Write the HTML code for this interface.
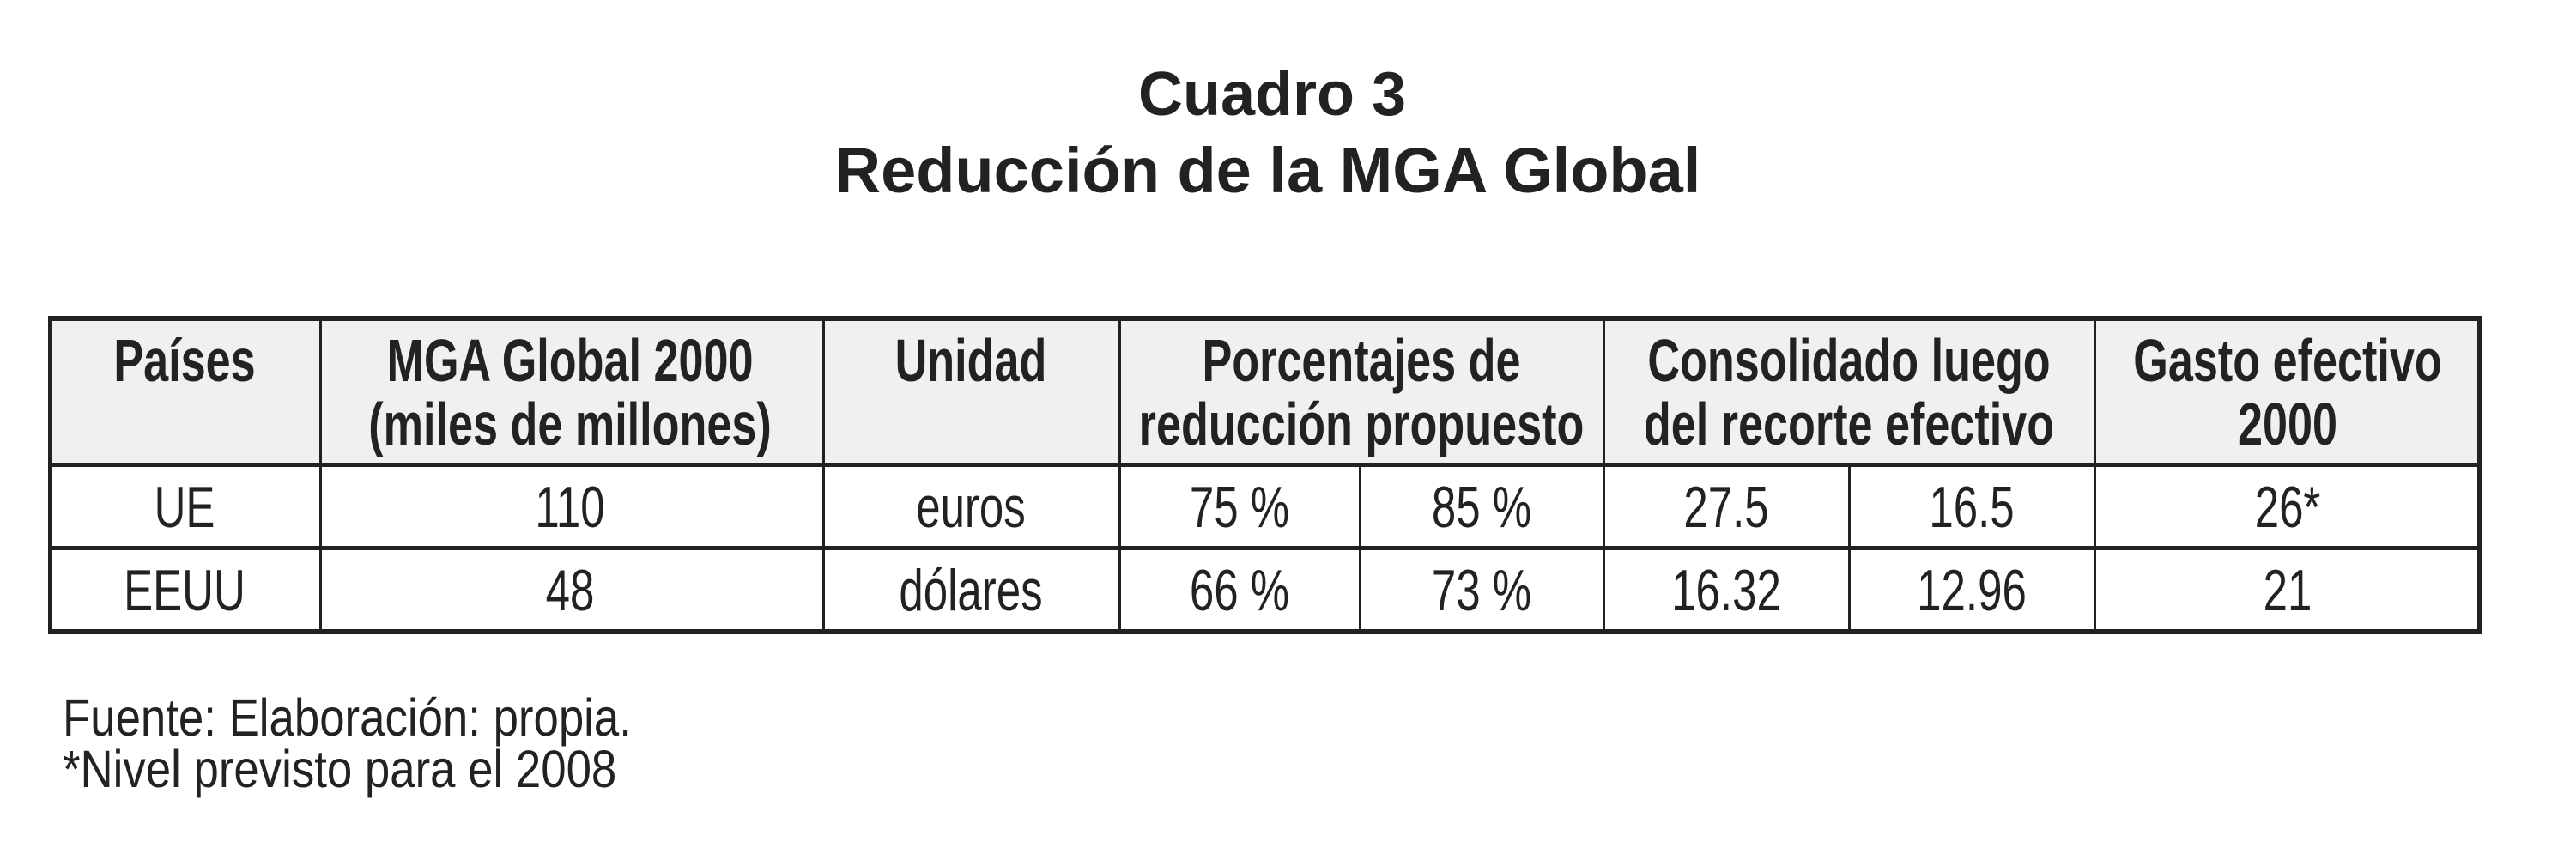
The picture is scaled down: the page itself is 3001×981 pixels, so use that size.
<!DOCTYPE html>
<html><head><meta charset="utf-8">
<style>
html,body{margin:0;padding:0;background:#fff;}
#p{position:relative;width:3001px;height:981px;overflow:hidden;background:#fff;color:#222;font-family:"Liberation Sans",sans-serif;}
.t{position:absolute;white-space:nowrap;line-height:1;transform:translateX(-50%) scaleX(var(--s));transform-origin:50% 0;}
.h{font-weight:bold;font-size:70px;--s:0.745;}
.b{font-size:68px;--s:0.75;}
.ln{position:absolute;background:#222;}
.f{position:absolute;left:73px;font-size:61px;line-height:1;white-space:nowrap;transform:scaleX(0.865);transform-origin:0 0}
</style></head><body><div id="p">
<div class="t" style="left:1482px;top:74px;font-size:72px;font-weight:bold;--s:1">Cuadro 3</div>
<div class="t" style="left:1477px;top:162px;font-size:74px;font-weight:bold;--s:1">Reducción de la MGA Global</div>

<div style="position:absolute;left:58px;top:371px;width:2830px;height:173px;background:#f0f0f0"></div>
<div class="ln" style="left:56px;top:368px;width:2835px;height:6px"></div>
<div class="ln" style="left:56px;top:539px;width:2835px;height:5px"></div>
<div class="ln" style="left:56px;top:636px;width:2835px;height:5px"></div>
<div class="ln" style="left:56px;top:733px;width:2835px;height:6px"></div>
<div class="ln" style="left:56px;top:368px;width:5px;height:371px"></div>
<div class="ln" style="left:2886px;top:368px;width:5px;height:371px"></div>
<div class="ln" style="left:372px;top:368px;width:3px;height:371px"></div>
<div class="ln" style="left:958px;top:368px;width:3px;height:371px"></div>
<div class="ln" style="left:1303px;top:368px;width:3px;height:371px"></div>
<div class="ln" style="left:1583px;top:539px;width:3px;height:200px"></div>
<div class="ln" style="left:1867px;top:368px;width:3px;height:371px"></div>
<div class="ln" style="left:2153px;top:539px;width:3px;height:200px"></div>
<div class="ln" style="left:2439px;top:368px;width:3px;height:371px"></div>

<div class="t h" style="left:215px;top:385px">Países</div>
<div class="t h" style="left:664px;top:385px">MGA Global 2000</div>
<div class="t h" style="left:664px;top:459px">(miles de millones)</div>
<div class="t h" style="left:1131px;top:385px">Unidad</div>
<div class="t h" style="left:1586px;top:385px">Porcentajes de</div>
<div class="t h" style="left:1586px;top:459px">reducción propuesto</div>
<div class="t h" style="left:2154px;top:385px">Consolidado luego</div>
<div class="t h" style="left:2154px;top:459px">del recorte efectivo</div>
<div class="t h" style="left:2665px;top:385px">Gasto efectivo</div>
<div class="t h" style="left:2665px;top:459px">2000</div>

<div class="t b" style="left:215px;top:557px">UE</div>
<div class="t b" style="left:664px;top:557px">110</div>
<div class="t b" style="left:1131px;top:557px">euros</div>
<div class="t b" style="left:1444px;top:557px">75 %</div>
<div class="t b" style="left:1726px;top:557px">85 %</div>
<div class="t b" style="left:2011px;top:557px">27.5</div>
<div class="t b" style="left:2297px;top:557px">16.5</div>
<div class="t b" style="left:2665px;top:557px">26*</div>
<div class="t b" style="left:215px;top:654px">EEUU</div>
<div class="t b" style="left:664px;top:654px">48</div>
<div class="t b" style="left:1131px;top:654px">dólares</div>
<div class="t b" style="left:1444px;top:654px">66 %</div>
<div class="t b" style="left:1726px;top:654px">73 %</div>
<div class="t b" style="left:2011px;top:654px">16.32</div>
<div class="t b" style="left:2297px;top:654px">12.96</div>
<div class="t b" style="left:2665px;top:654px">21</div>

<div class="f" style="top:806px">Fuente: Elaboración: propia.</div>
<div class="f" style="top:866px">*Nivel previsto para el 2008</div>
</div></body></html>
